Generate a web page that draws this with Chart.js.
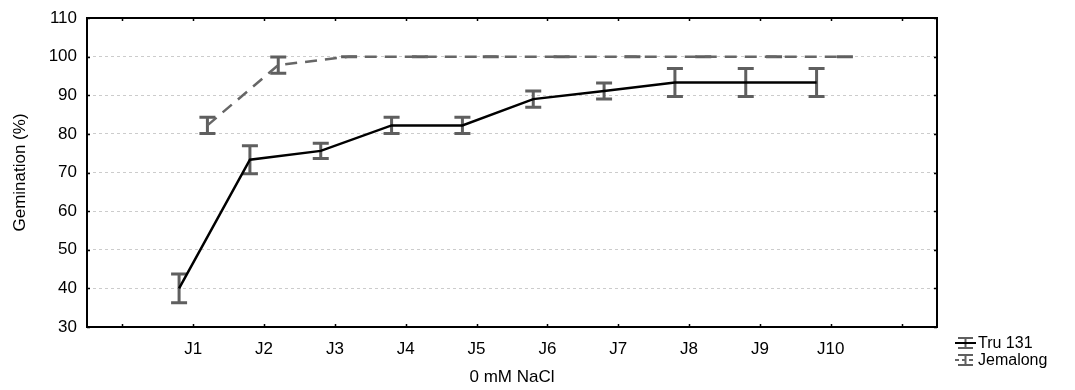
<!DOCTYPE html>
<html>
<head>
<meta charset="utf-8">
<script src="https://cdn.jsdelivr.net/npm/chart.js@4.4.0/dist/chart.umd.min.js"></script>
<style>
    html, body { margin: 0; padding: 0; background: #fff; }
</style>
</head>
<body>
<canvas id="lineChart" width="1075" height="390"></canvas>
<script>
    // datos
    var categorias = ['J1', 'J2', 'J3', 'J4', 'J5', 'J6', 'J7', 'J8', 'J9', 'J10'];
    var tru131 = [40.0, 73.3, 75.6, 82.2, 82.2, 89.0, 91.1, 93.3, 93.3, 93.3];
    var tru131Err = [3.7, 3.6, 2.0, 2.1, 2.1, 2.1, 2.1, 3.6, 3.6, 3.6];
    var jemalong = [82.2, 97.8, 100, 100, 100, 100, 100, 100, 100, 100];
    var jemalongErr = [2.1, 2.1, 0, 0, 0, 0, 0, 0, 0, 0];
    var yTicks = [30, 40, 50, 60, 70, 80, 90, 100, 110];
    var xTicks = [0, 1, 2, 3, 4, 5, 6, 7, 8, 9, 10, 11];

    var fuente = "'Liberation Sans', Arial, sans-serif";
    var colorBarra = '#5f5f5f';

    function puntos(valores, desplazamiento) {
        return valores.map(function (v, i) { return { x: i + 1 + desplazamiento, y: v }; });
    }

    // barras de error, marco con ticks hacia adentro y leyenda
    var barrasPlugin = {
        id: 'barras',
        beforeDatasetsDraw: function (chart) {
            var ctx = chart.ctx;
            var xs = chart.scales.x, ys = chart.scales.y;
            var errores = [tru131Err, jemalongErr];
            ctx.save();
            ctx.strokeStyle = colorBarra;
            ctx.lineWidth = 3;
            chart.data.datasets.forEach(function (ds, d) {
                ds.data.forEach(function (p, i) {
                    var px = xs.getPixelForValue(p.x);
                    var y1 = ys.getPixelForValue(p.y + errores[d][i]);
                    var y2 = ys.getPixelForValue(p.y - errores[d][i]);
                    ctx.beginPath();
                    ctx.moveTo(px, y1); ctx.lineTo(px, y2);
                    ctx.moveTo(px - 8, y1); ctx.lineTo(px + 8, y1);
                    ctx.moveTo(px - 8, y2); ctx.lineTo(px + 8, y2);
                    ctx.stroke();
                });
            });
            ctx.restore();
        },
        afterDraw: function (chart) {
            var ctx = chart.ctx;
            var a = chart.chartArea;
            var xs = chart.scales.x, ys = chart.scales.y;
            ctx.save();
            ctx.strokeStyle = '#000';
            ctx.lineWidth = 2;
            ctx.strokeRect(a.left, a.top, a.right - a.left, a.bottom - a.top);
            ctx.beginPath();
            xTicks.forEach(function (k) {
                var px = Math.round(xs.getPixelForValue(k)) + 0.5;
                ctx.moveTo(px, a.bottom); ctx.lineTo(px, a.bottom - 3);
                ctx.moveTo(px, a.top); ctx.lineTo(px, a.top + 3);
            });
            yTicks.forEach(function (v) {
                var py = Math.round(ys.getPixelForValue(v)) + 0.5;
                ctx.moveTo(a.left, py); ctx.lineTo(a.left + 3, py);
                ctx.moveTo(a.right, py); ctx.lineTo(a.right - 3, py);
            });
            ctx.lineWidth = 1.5;
            ctx.stroke();

            // leyenda
            var lx = 955, lw = 21;
            var filas = [
                { texto: 'Tru 131', y: 343, color: '#000', dash: [] },
                { texto: 'Jemalong', y: 360, color: '#666', dash: [4, 3] }
            ];
            filas.forEach(function (f) {
                ctx.strokeStyle = colorBarra;
                ctx.lineWidth = 2;
                ctx.setLineDash([]);
                ctx.beginPath();
                ctx.moveTo(lx + 3, f.y - 5); ctx.lineTo(lx + lw - 3, f.y - 5);
                ctx.moveTo(lx + 3, f.y + 5); ctx.lineTo(lx + lw - 3, f.y + 5);
                ctx.moveTo(lx + lw / 2, f.y - 5); ctx.lineTo(lx + lw / 2, f.y + 5);
                ctx.stroke();
                ctx.strokeStyle = f.color;
                ctx.setLineDash(f.dash);
                ctx.beginPath();
                ctx.moveTo(lx, f.y); ctx.lineTo(lx + lw, f.y);
                ctx.stroke();
                ctx.setLineDash([]);
                ctx.fillStyle = '#000';
                ctx.font = '16px ' + fuente;
                ctx.textBaseline = 'middle';
                ctx.fillText(f.texto, lx + lw + 2, f.y + 1);
            });
            ctx.restore();
        }
    };

    var ctx = document.getElementById('lineChart');
    var myChart = new Chart(ctx, {
        type: 'line',
        data: {
            datasets: [{
                label: 'Tru 131',
                data: puntos(tru131, -0.2),
                borderColor: '#000',
                borderWidth: 2.5,
                pointRadius: 0,
                fill: false
            }, {
                label: 'Jemalong',
                data: puntos(jemalong, 0.2),
                borderColor: '#666',
                borderWidth: 2.5,
                borderDash: [12, 8],
                pointRadius: 0,
                fill: false
            }]
        },
        plugins: [barrasPlugin],
        options: {
            responsive: false,
            animation: false,
            layout: { padding: { top: 18, right: 138, left: 0, bottom: 0 } },
            plugins: {
                legend: { display: false },
                tooltip: { enabled: false }
            },
            scales: {
                x: {
                    type: 'linear',
                    min: -0.5,
                    max: 11.5,
                    afterBuildTicks: function (s) {
                        s.ticks = xTicks.map(function (v) { return { value: v }; });
                    },
                    afterFit: function (s) {
                        s.height = 63;
                        s.paddingLeft = 0;
                        s.paddingRight = 0;
                    },
                    grid: { display: false, drawTicks: false },
                    border: { display: false },
                    ticks: {
                        autoSkip: false,
                        maxRotation: 0,
                        padding: 12,
                        color: '#000',
                        font: { family: fuente, size: 17 },
                        callback: function (v) {
                            return (v >= 1 && v <= 10) ? categorias[v - 1] : '';
                        }
                    },
                    title: {
                        display: true,
                        text: '0 mM NaCl',
                        color: '#000',
                        font: { family: fuente, size: 17 },
                        padding: { top: 0, bottom: 2 }
                    }
                },
                y: {
                    min: 30,
                    max: 110,
                    afterFit: function (s) {
                        s.width = 87;
                        s.paddingTop = 0;
                        s.paddingBottom = 0;
                    },
                    grid: {
                        drawTicks: false,
                        lineWidth: 1,
                        color: function (c) {
                            var v = c.tick ? c.tick.value : null;
                            return (v === 30 || v === 110) ? 'rgba(0,0,0,0)' : '#cccccc';
                        }
                    },
                    border: { display: false, dash: [3, 3] },
                    ticks: {
                        stepSize: 10,
                        padding: 10,
                        color: '#000',
                        font: { family: fuente, size: 17 }
                    },
                    title: {
                        display: true,
                        text: 'Gemination (%)',
                        color: '#000',
                        font: { family: fuente, size: 17 },
                        padding: { top: 10, bottom: 0 }
                    }
                }
            }
        }
    });
</script>
</body>
</html>
